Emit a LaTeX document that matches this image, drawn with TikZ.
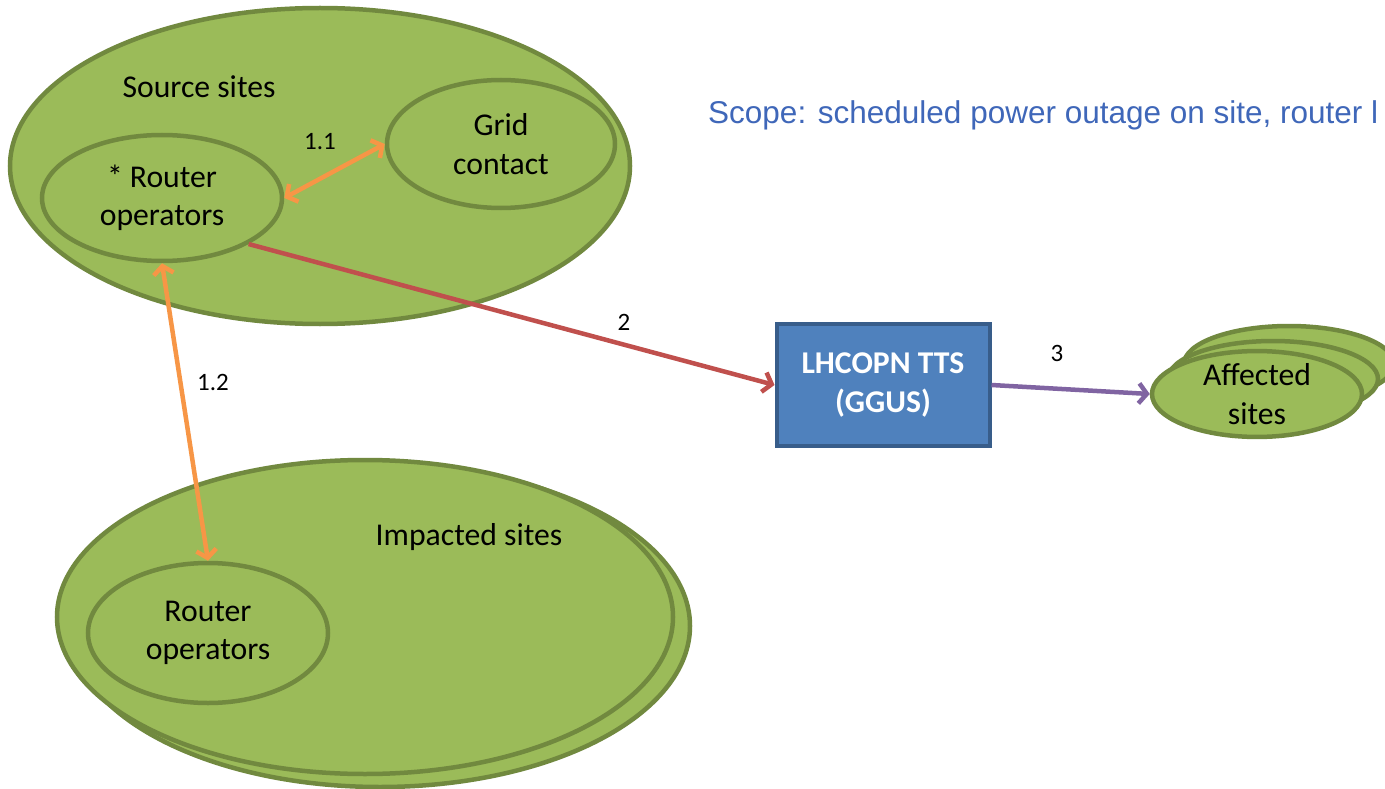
\documentclass[tikz,border=0pt]{standalone}
\usepackage{fontspec}
\setmainfont{Carlito}
\newfontfamily\arialfont{Liberation Sans}
\usetikzlibrary{shapes.geometric,arrows.meta}
\definecolor{gfill}{HTML}{9BBB59}
\definecolor{gline}{HTML}{71893F}
\definecolor{bfill}{HTML}{4F81BD}
\definecolor{bline}{HTML}{385D8A}
\definecolor{oarr}{HTML}{F79646}
\definecolor{rarr}{HTML}{C0504D}
\definecolor{parr}{HTML}{8064A2}
\definecolor{scopeblue}{HTML}{3F67B9}
\tikzset{
  ell/.style={ellipse, draw=gline, fill=gfill, line width=4.5pt, inner sep=0pt, align=center, font=\bigtxt},
  lbl/.style={font=\fontsize{25}{30}\selectfont, inner sep=0pt},
  txt/.style={font=\bigtxt, inner sep=0pt},
  conn/.style={line width=4.5pt},
  barb/.tip={Straight Barb[length=8pt,width=20pt]},
}
\newcommand{\bigtxt}{\fontsize{31.7}{38.5}\selectfont}
\begin{document}
\begin{tikzpicture}[x=1pt,y=-1pt]
\useasboundingbox (0,0) rectangle (1385,789);
\fill[white] (0,0) rectangle (1385,789);
\clip (0,0) rectangle (1385,789);

% Source sites
\node[ell, minimum width=620pt, minimum height=316pt] (src) at (320,166) {};
\node[txt] (srclbl) at (199,87) {Source sites};
\node[ell, minimum width=228pt, minimum height=128pt] (grid) at (501,144) {Grid\\contact};
\node[ell, minimum width=240pt, minimum height=126pt] (rsrc) at (162,198) {* Router\\operators};

% Impacted sites
\node[ell, minimum width=620pt, minimum height=322pt] (impb) at (380,626) {};
\node[ell, minimum width=616pt, minimum height=314pt] (imp) at (365,617) {};
\node[txt] (implbl) at (469,537) {Impacted sites};
\node[ell, minimum width=240pt, minimum height=140pt] (rimp) at (208,633) {Router\\operators};

% Affected sites
\node[ell, minimum width=210pt, minimum height=76pt] (aff3) at (1289,364) {};
\node[ell, minimum width=210pt, minimum height=76pt] (aff2) at (1273,379) {};
\node[ell, minimum width=210pt, minimum height=76pt] (aff1) at (1257,394) {Affected\\sites};

% TTS box
\node[draw=bline, fill=bfill, line width=4pt, minimum width=213pt, minimum height=122pt,
      align=center, text=white, font=\bigtxt\bfseries] (box) at (883,385) {LHCOPN TTS\\(GGUS)};

% Scope text
\node[anchor=base west, inner sep=0pt, text=scopeblue, font=\arialfont\fontsize{31.5}{38}\selectfont]
  (scope) at (708,124) {Scope: scheduled power outage on site, router l};

% Connectors
\draw[conn, draw=oarr, {barb}-{barb}] (rsrc.east) -- (grid.west);
\draw[conn, draw=oarr, {barb}-{barb}] (rsrc.south) -- (rimp.north);
\draw[conn, draw=rarr, -{barb}] (rsrc.-28) -- (box.west);
\draw[conn, draw=parr, -{barb}] (box.east) -- (aff1.west);

% Labels
\node[lbl] (l11) at (320,142) {1.1};
\node[lbl] (l12) at (213,382) {1.2};
\node[lbl] (l2) at (624,322) {2};
\node[lbl] (l3) at (1057,353) {3};
\end{tikzpicture}
\end{document}
